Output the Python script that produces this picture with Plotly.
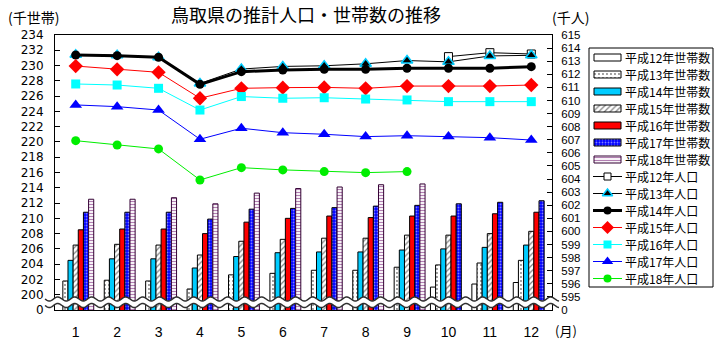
import numpy as np
import plotly.graph_objects as go

W, H = 720, 340

# ---------------- data ----------------
months = [1, 2, 3, 4, 5, 6, 7, 8, 9, 10, 11, 12]
month_labels = ["1", "2", "3", "4", "5", "6", "7", "8", "9", "10", "11", "12"]

# households (thousand) - left axis
hh_h12 = [None, None, None, None, None, None, None, None, None, 201.0, 201.4, 201.6]
hh_h13 = [201.8, 201.9, 201.8, 200.75, 202.6, 202.8, 203.2, 203.2, 203.6, 203.9, 204.15, 204.5]
hh_h14 = [204.5, 204.7, 204.7, 203.5, 205.0, 205.5, 205.6, 205.6, 205.85, 206.0, 206.2, 206.5]
hh_h15 = [206.5, 206.6, 206.5, 205.2, 207.0, 207.25, 207.4, 207.4, 207.8, 207.8, 208.0, 208.3]
hh_h16 = [208.5, 208.6, 208.6, 208.0, 209.5, 210.0, 210.3, 210.1, 210.3, 210.3, 210.6, 210.8]
hh_h17 = [210.8, 210.8, 210.8, 209.9, 211.2, 211.3, 211.4, 211.6, 211.7, 211.9, 212.1, 212.3]
hh_h18 = [212.5, 212.5, 212.7, 211.9, 213.3, 213.9, 214.1, 214.4, 214.5, None, None, None]

# population (thousand) - right axis
pop_h12 = [None, None, None, None, None, None, None, None, None, 613.35, 613.65, 613.55]
pop_h13 = [613.5, 613.45, 613.3, 611.3, 612.4, 612.6, 612.65, 612.8, 613.05, 612.95, 613.4, 613.45]
pop_h14 = [613.47, 613.42, 613.3, 611.23, 612.2, 612.33, 612.38, 612.38, 612.46, 612.46, 612.46, 612.58]
pop_h15 = [612.63, 612.38, 612.15, 610.17, 610.93, 610.98, 611.0, 610.93, 611.1, 611.1, 611.1, 611.18]
pop_h16 = [611.26, 611.18, 610.93, 609.27, 610.3, 610.17, 610.21, 610.11, 610.04, 609.91, 609.91, 609.91]
pop_h17 = [609.66, 609.53, 609.27, 607.04, 607.88, 607.54, 607.42, 607.24, 607.31, 607.24, 607.16, 606.98]
pop_h18 = [606.93, 606.6, 606.3, 603.93, 604.87, 604.7, 604.57, 604.49, 604.57, None, None, None]

hh_names = ["平成12年世帯数", "平成13年世帯数", "平成14年世帯数", "平成15年世帯数",
            "平成16年世帯数", "平成17年世帯数", "平成18年世帯数"]
pop_names = ["平成12年人口", "平成13年人口", "平成14年人口", "平成15年人口",
             "平成16年人口", "平成17年人口", "平成18年人口"]

left_tick_vals = [198, 200, 202, 204, 206, 208, 210, 212, 214, 216, 218, 220, 222, 224, 226, 228, 230, 232, 234]
left_tick_text = ["0", "200", "202", "204", "206", "208", "210", "212", "214", "216", "218",
                  "220", "222", "224", "226", "228", "230", "232", "234"]
right_tick_vals = [594, 595, 596, 597, 598, 599, 600, 601, 602, 603, 604, 605, 606, 607, 608,
                   609, 610, 611, 612, 613, 614, 615]
right_tick_text = ["0", "595", "596", "597", "598", "599", "600", "601", "602", "603", "604", "605",
                   "606", "607", "608", "609", "610", "611", "612", "613", "614", "615"]

hh_series = [hh_h12, hh_h13, hh_h14, hh_h15, hh_h16, hh_h17, hh_h18]
pop_series = [pop_h12, pop_h13, pop_h14, pop_h15, pop_h16, pop_h17, pop_h18]

# ---------------- styles ----------------
bar_styles = [
    dict(color="white", line="black", pattern=dict(shape="")),
    dict(color="white", line="black", pattern=dict(shape=".", fgcolor="black", bgcolor="white", size=4, solidity=0.18)),
    dict(color="#00CCFF", line="black", pattern=dict(shape="")),
    dict(color="white", line="black", pattern=dict(shape="/", fgcolor="black", bgcolor="white", size=4, solidity=0.3)),
    dict(color="#FF0000", line="black", pattern=dict(shape="")),
    dict(color="#0000FF", line="black", pattern=dict(shape=".", fgcolor="white", bgcolor="#0000FF", size=3, solidity=0.3)),
    dict(color="white", line="#330033", pattern=dict(shape="-", fgcolor="#660066", bgcolor="white", size=3, solidity=0.4)),
]
pop_styles = [
    dict(lc="black", lw=1, sym="square", mc="white", mlc="black", mlw=1, ms=8),
    dict(lc="black", lw=1, sym="triangle-up", mc="black", mlc="#00CCFF", mlw=1.5, ms=10),
    dict(lc="black", lw=3, sym="circle", mc="black", mlc="black", mlw=0, ms=9),
    dict(lc="#FF0000", lw=1, sym="diamond", mc="#FF0000", mlc="#FF0000", mlw=0, ms=11),
    dict(lc="#00FFFF", lw=1, sym="square", mc="#00FFFF", mlc="#00FFFF", mlw=0, ms=9),
    dict(lc="#0000FF", lw=1, sym="triangle-up", mc="#0000FF", mlc="#0000FF", mlw=0, ms=11),
    dict(lc="#00EE00", lw=1, sym="circle", mc="#00EE00", mlc="#00EE00", mlw=0, ms=9),
]

CJK = "Noto Sans CJK JP"

fig = go.Figure()

# bars (households)
for name, vals, st in zip(hh_names, hh_series, bar_styles):
    fig.add_trace(go.Bar(
        x=months, y=vals, name=name, xaxis="x", yaxis="y",
        marker=dict(color=st["color"], line=dict(color=st["line"], width=1), pattern=st["pattern"]),
        showlegend=False,
    ))

# lines (population)
for name, vals, st in zip(pop_names, pop_series, pop_styles):
    fig.add_trace(go.Scatter(
        x=months, y=vals, name=name, xaxis="x", yaxis="y2", mode="lines+markers",
        line=dict(color=st["lc"], width=st["lw"]),
        marker=dict(symbol=st["sym"], color=st["mc"], size=st["ms"],
                    line=dict(color=st["mlc"], width=st["mlw"])),
        showlegend=False, cliponaxis=False,
    ))

# ---------------- custom legend (own small axis, pixel units) ----------------
row0, row_step = 57.5, 17.0
LEG_FONT = dict(family=CJK, size=12, color="black")
for i, (name, st) in enumerate(zip(hh_names, bar_styles)):
    ry = row0 + row_step * i
    fig.add_trace(go.Bar(
        y=[ry], x=[27], base=[594], width=[7], offset=-3.5, orientation="h",
        xaxis="x3", yaxis="y3",
        marker=dict(color=st["color"], line=dict(color=st["line"], width=1), pattern=st["pattern"]),
        showlegend=False, hoverinfo="skip",
    ))
    fig.add_annotation(x=624, y=ry, xref="x3", yref="y3", text=name, showarrow=False,
                       xanchor="left", yanchor="middle", borderpad=0, font=LEG_FONT)
for j, (name, st) in enumerate(zip(pop_names, pop_styles)):
    ry = row0 + row_step * (j + 7)
    fig.add_trace(go.Scatter(
        x=[593, 622], y=[ry, ry], mode="lines", xaxis="x3", yaxis="y3",
        line=dict(color=st["lc"], width=st["lw"]), showlegend=False, hoverinfo="skip",
    ))
    fig.add_trace(go.Scatter(
        x=[607.5], y=[ry], mode="markers", xaxis="x3", yaxis="y3",
        marker=dict(symbol=st["sym"], color=st["mc"], size=st["ms"] - 1,
                    line=dict(color=st["mlc"], width=st["mlw"])),
        showlegend=False, hoverinfo="skip", cliponaxis=False,
    ))
    fig.add_annotation(x=624, y=ry, xref="x3", yref="y3", text=name, showarrow=False,
                       xanchor="left", yanchor="middle", borderpad=0, font=LEG_FONT)

def px(x):
    return x / W

def py(y):
    return 1 - y / H

shapes = []
# legend frame
shapes.append(dict(type="rect", xref="paper", yref="paper", x0=px(589), x1=px(713), y0=py(287), y1=py(48),
                   line=dict(color="black", width=1), fillcolor="rgba(0,0,0,0)", layer="above"))

# axis-break wave band
wx = np.arange(45, 560, 1.0)
up = 299 + 2.0 * np.sin(2 * np.pi * (wx - 45) / 17.0)
lo = up + 6.5
band = "M " + " L ".join(f"{px(a):.5f},{py(b):.5f}" for a, b in zip(wx, up))
band += " L " + " L ".join(f"{px(a):.5f},{py(b):.5f}" for a, b in zip(wx[::-1], lo[::-1])) + " Z"
shapes.append(dict(type="path", xref="paper", yref="paper", path=band, fillcolor="white",
                   line=dict(width=0), layer="above"))
for arr in (up, lo):
    p = "M " + " L ".join(f"{px(a):.5f},{py(b):.5f}" for a, b in zip(wx, arr))
    shapes.append(dict(type="path", xref="paper", yref="paper", path=p,
                       line=dict(color="#303030", width=1.5), layer="above"))

annotations_extra = [
    dict(x=px(306), y=py(14), text="鳥取県の推計人口・世帯数の推移", font=dict(family=CJK, size=18, color="black")),
    dict(x=px(33), y=py(17), text="(千世帯)", font=dict(family=CJK, size=14, color="black")),
    dict(x=px(570), y=py(17), text="(千人)", font=dict(family=CJK, size=14, color="black")),
    dict(x=px(566), y=py(330), text="(月)", font=dict(family=CJK, size=13, color="black")),
]
for a in annotations_extra:
    fig.add_annotation(xref="paper", yref="paper", showarrow=False, xanchor="center", yanchor="middle",
                       borderpad=0, **a)

fig.update_layout(
    width=W, height=H, margin=dict(l=0, r=0, t=0, b=0, pad=0),
    paper_bgcolor="white", plot_bgcolor="white", showlegend=False,
    barmode="group", bargap=0.13, bargroupgap=0,
    shapes=shapes,
    xaxis=dict(domain=[px(55), px(552)], range=[0.5, 12.5], tickmode="array", tickvals=months,
               ticktext=month_labels, ticks="", showline=True, linecolor="black", linewidth=1,
               mirror=True, showgrid=False, zeroline=False, anchor="y", automargin=False,
               tickfont=dict(family="Liberation Sans", size=14, color="black"), ticklabelstandoff=9),
    yaxis=dict(domain=[py(310), py(35)], range=[198, 234], tickmode="array", tickvals=left_tick_vals,
               ticktext=left_tick_text, ticks="inside", ticklen=5, tickcolor="black", showline=True,
               linecolor="black", linewidth=1, showgrid=False, zeroline=False, anchor="x", automargin=False,
               tickfont=dict(family="DejaVu Sans", size=12, color="black"), ticklabelstandoff=8),
    yaxis2=dict(overlaying="y", side="right", anchor="x", range=[594, 615], tickmode="array",
                tickvals=right_tick_vals, ticktext=right_tick_text, ticks="inside", ticklen=5,
                tickcolor="black", showline=True, linecolor="black", linewidth=1, showgrid=False,
                zeroline=False, automargin=False,
                tickfont=dict(family="Liberation Sans", size=11.5, color="black"), ticklabelstandoff=6),
    xaxis3=dict(domain=[px(589), px(713)], range=[589, 713], visible=False, anchor="y3", fixedrange=True),
    yaxis3=dict(domain=[py(287), py(48)], range=[287, 48], visible=False, anchor="x3", fixedrange=True),
)

fig.write_html("out.html")
